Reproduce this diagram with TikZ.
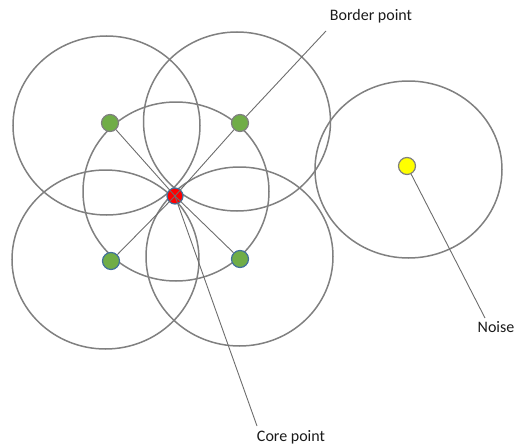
\documentclass[tikz,border=0pt]{standalone}
\usepackage{fontspec}
\setmainfont{Carlito}
\definecolor{ringgray}{HTML}{808080}
\definecolor{dotgreen}{HTML}{70AD47}
\definecolor{dotblue}{HTML}{41719C}
\definecolor{dotyellow}{HTML}{FFFF00}
\definecolor{txt}{HTML}{1A1A1A}
\tikzset{
  ring/.style={draw=ringgray, line width=1.5pt},
  dot/.style={circle, inner sep=0pt, minimum size=17pt, line width=1.2pt},
  greendot/.style={dot, fill=dotgreen, draw=ringgray},
  greenbdot/.style={dot, fill=dotgreen, draw=dotblue},
  coredot/.style={dot, fill=red, draw=dotblue, minimum size=16pt},
  noisedot/.style={dot, fill=dotyellow, draw=ringgray},
  link/.style={draw=ringgray!85!black, line width=0.9pt},
  lbl/.style={font=\fontsize{16}{19}\selectfont, text=txt, inner sep=0pt}
}
\begin{document}
\begin{tikzpicture}[x=1pt,y=-1pt]
\useasboundingbox (0,0) rectangle (515,447);
% circles (eps-neighbourhoods)
\draw[ring] (106.5,125.5) ellipse [x radius=93.5pt, y radius=89.5pt];
\draw[ring] (237,121.5) ellipse [x radius=93.5pt, y radius=89.5pt];
\draw[ring] (176,191.5) ellipse [x radius=93pt, y radius=89.5pt];
\draw[ring] (105.5,259.5) ellipse [x radius=93.5pt, y radius=89.5pt];
\draw[ring] (239.5,256.5) ellipse [x radius=93.5pt, y radius=89.5pt];
\draw[ring] (408.5,169.5) ellipse [x radius=93.5pt, y radius=88.5pt];
% labels
\node[lbl] (lb) at (371,16) {Border point};
\node[lbl] (lc) at (291,437) {Core point};
\node[lbl] (ln) at (496,327) {Noise};
\coordinate (eb) at (326,31);
\coordinate (ec) at (257,426);
\coordinate (en) at (485,318);
% points
\node[greendot] (g1) at (110,123) {};
\node[greendot] (g2) at (240,123) {};
\node[greenbdot] (g3) at (111,261) {};
\node[greenbdot] (g4) at (240,259) {};
\node[coredot] (c) at (175,196) {};
\node[noisedot] (y) at (407,166) {};
% connectors
\draw[link] (c.center) -- (g1);
\draw[link] (c.center) -- (g2);
\draw[link] (c.center) -- (g3);
\draw[link] (c.center) -- (g4);
\draw[link] (c.center) -- (ec);
\draw[link] (g2) -- (eb);
\draw[link] (y) -- (en);
\end{tikzpicture}
\end{document}
